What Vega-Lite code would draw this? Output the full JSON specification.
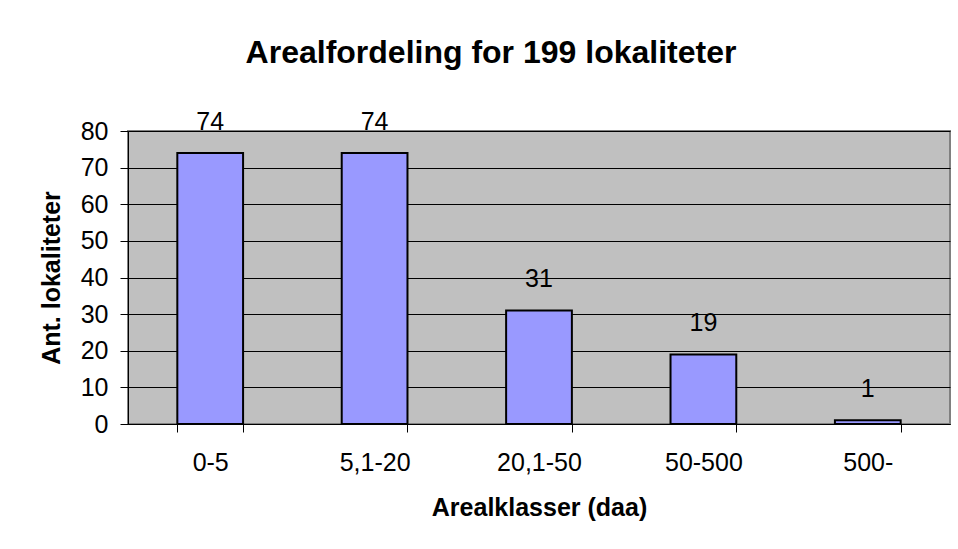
{
  "$schema": "https://vega.github.io/schema/vega-lite/v6.json",
  "width": 822,
  "height": 293,
  "autosize": {"type": "none"},
  "padding": {"left": 128, "top": 131, "right": 8, "bottom": 125},
  "background": "white",
  "title": {
    "text": "Arealfordeling for 199 lokaliteter",
    "font": "Liberation Sans",
    "fontSize": 32,
    "fontWeight": "bold",
    "color": "black",
    "anchor": "middle",
    "dx": -48,
    "offset": 40
  },
  "data": {
    "values": [
      {"klasse": "0-5", "antall": 74},
      {"klasse": "5,1-20", "antall": 74},
      {"klasse": "20,1-50", "antall": 31},
      {"klasse": "50-500", "antall": 19},
      {"klasse": "500-", "antall": 1}
    ]
  },
  "encoding": {
    "x": {
      "field": "klasse",
      "type": "nominal",
      "sort": null,
      "scale": {"paddingInner": 0.6, "paddingOuter": 0.3},
      "axis": {
        "title": "Arealklasser (daa)",
        "labelAngle": 0,
        "tickBand": "extent",
        "tickSize": 8,
        "tickColor": "black",
        "domainColor": "black",
        "labelPadding": 18,
        "labelFontSize": 25,
        "labelFont": "Liberation Sans",
        "labelColor": "black",
        "titleFont": "Liberation Sans",
        "titleFontSize": 25,
        "titleFontWeight": "bold",
        "titleColor": "black",
        "titlePadding": 20,
        "grid": false
      }
    },
    "y": {
      "field": "antall",
      "type": "quantitative",
      "scale": {"domain": [0, 80]},
      "axis": {
        "title": "Ant. lokaliteter",
        "values": [0, 10, 20, 30, 40, 50, 60, 70, 80],
        "tickSize": 8,
        "tickColor": "black",
        "domainColor": "black",
        "labelPadding": 12,
        "labelFontSize": 25,
        "labelFont": "Liberation Sans",
        "labelColor": "black",
        "titleFont": "Liberation Sans",
        "titleFontSize": 25,
        "titleFontWeight": "bold",
        "titleColor": "black",
        "titlePadding": 16,
        "grid": true,
        "gridColor": "black",
        "gridWidth": 1,
        "gridOpacity": 1
      }
    }
  },
  "layer": [
    {
      "mark": {"type": "bar", "color": "#9999FF", "stroke": "black", "strokeWidth": 2}
    },
    {
      "mark": {"type": "text", "baseline": "alphabetic", "dy": -23, "fontSize": 25, "font": "Liberation Sans", "color": "black"},
      "encoding": {"text": {"field": "antall", "type": "quantitative"}}
    }
  ],
  "config": {
    "view": {"fill": "#C0C0C0", "stroke": "#808080", "strokeWidth": 2}
  }
}
